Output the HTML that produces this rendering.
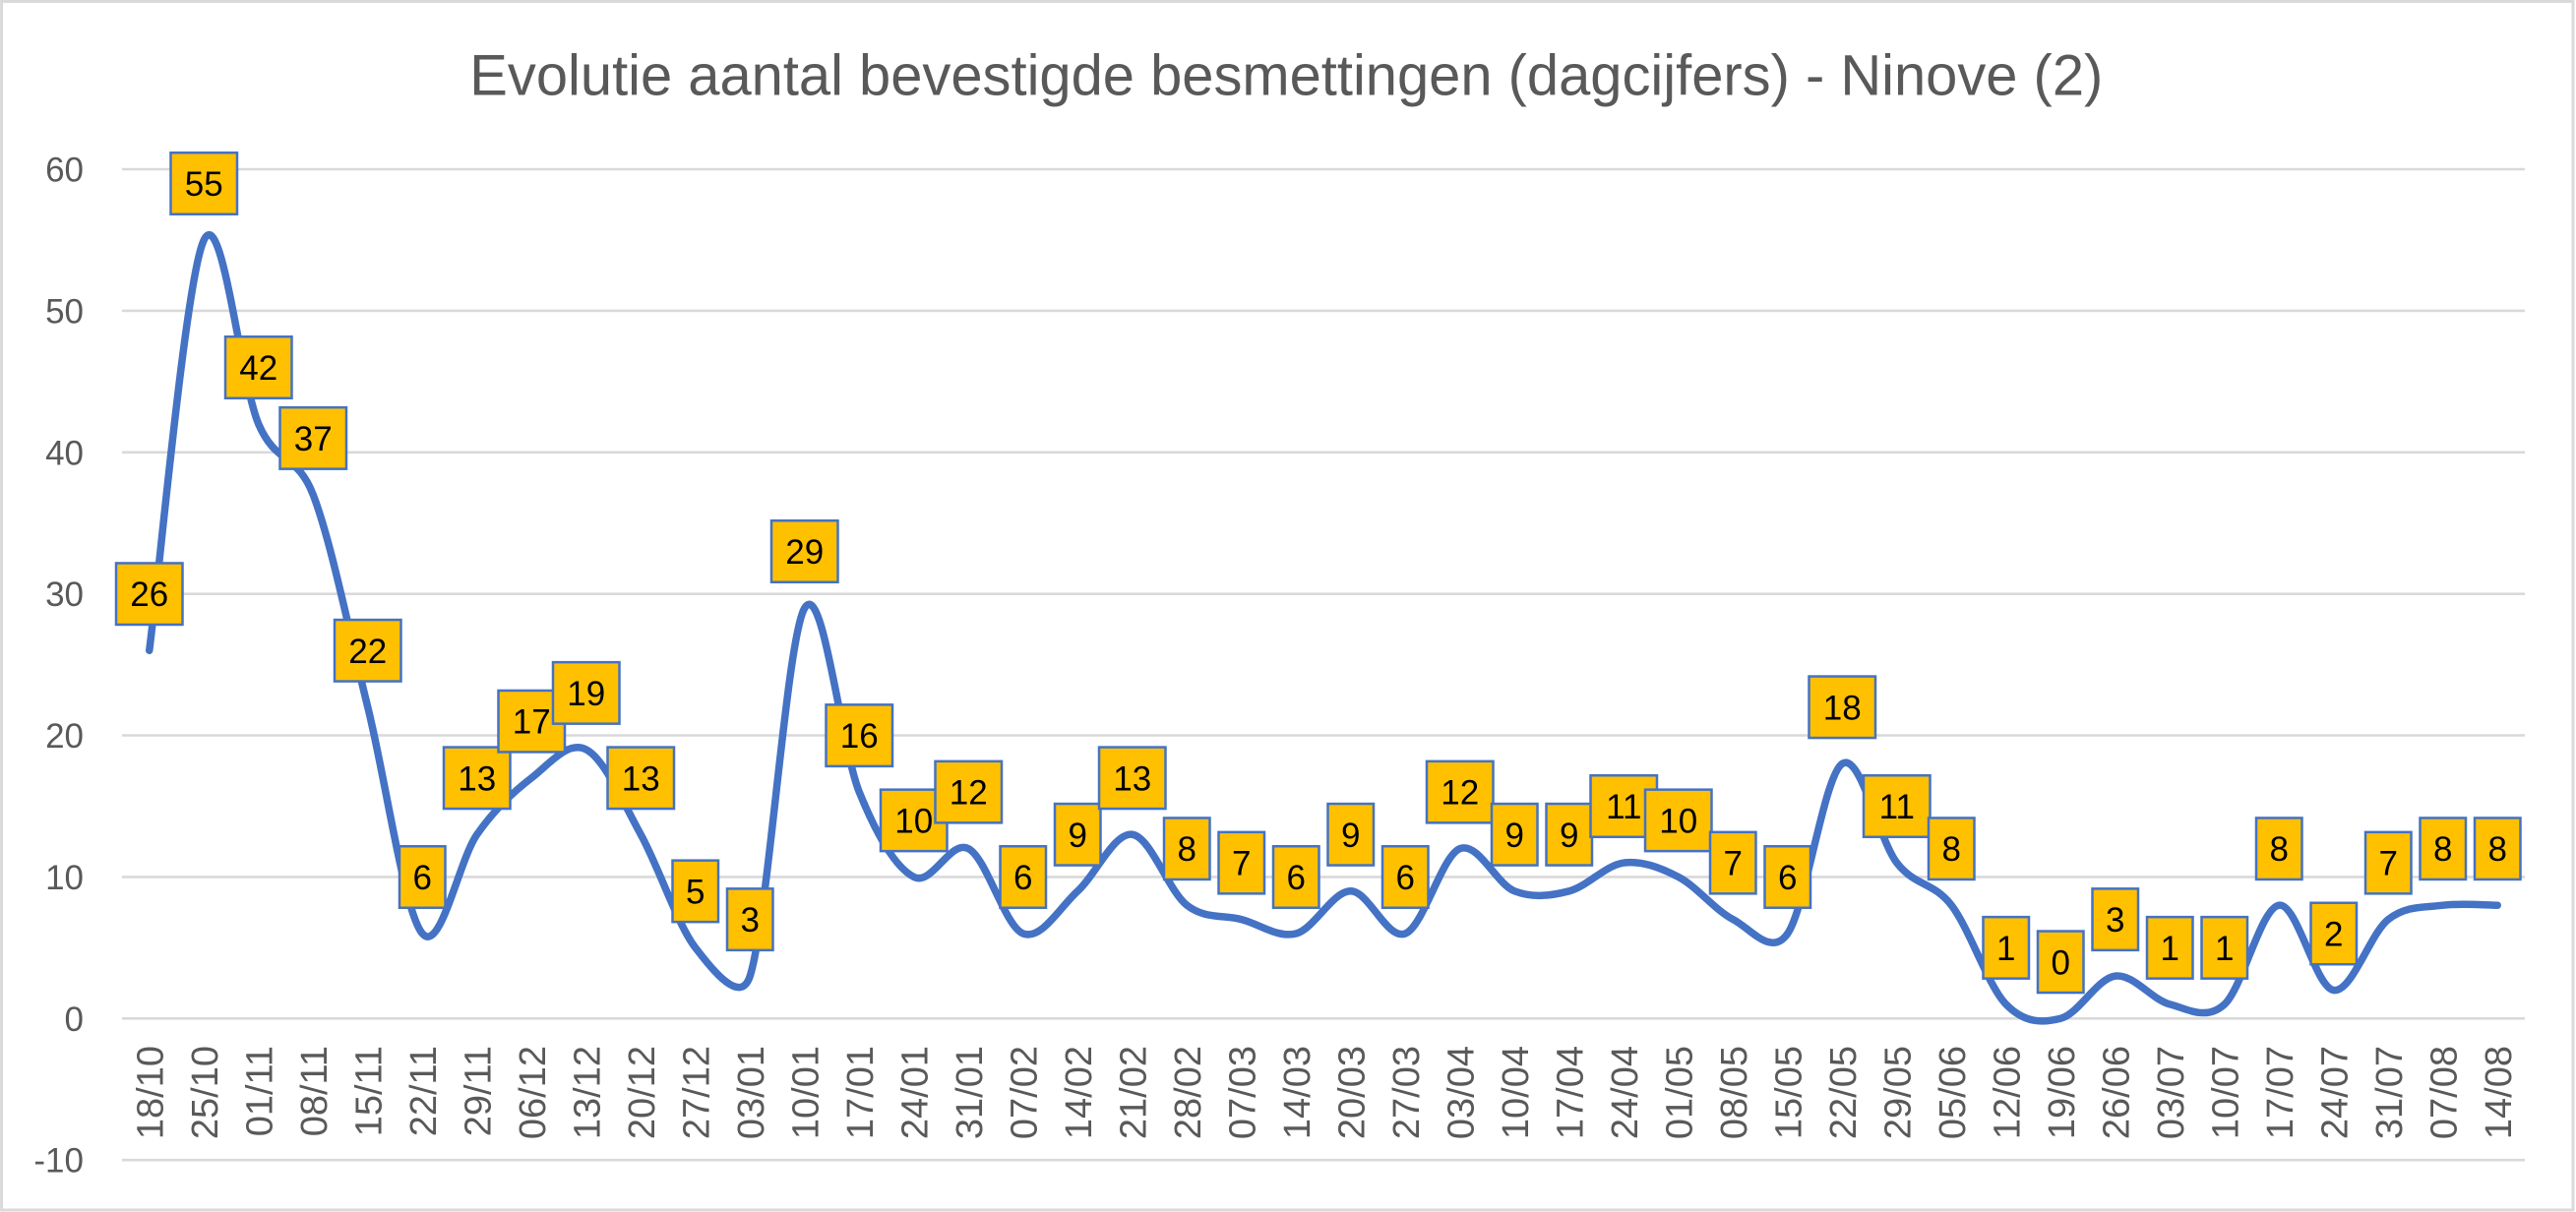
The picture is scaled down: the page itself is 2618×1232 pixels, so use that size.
<!DOCTYPE html>
<html>
<head>
<meta charset="utf-8">
<style>
html,body{margin:0;padding:0;background:#fff;}
svg{display:block;}
text{font-family:"Liberation Sans",Arial,sans-serif;}
.yl{font-size:35px;fill:#595959;text-anchor:end;}
.xl{font-size:38px;fill:#595959;text-anchor:end;}
.lb rect{fill:#FFC000;stroke:#4472C4;stroke-width:2.5;}
.lb text{font-size:35px;fill:#000;text-anchor:middle;}
</style>
</head>
<body>
<svg width="2618" height="1232" viewBox="0 0 2618 1232" xmlns="http://www.w3.org/2000/svg">
<rect x="0" y="0" width="2618" height="1232" fill="#fff"/>
<rect x="1.6" y="1.4" width="2613.4" height="1228.6" fill="none" stroke="#D9D9D9" stroke-width="3"/>

<text x="477.3" y="96.7" font-size="58" fill="#595959" textLength="1660" lengthAdjust="spacingAndGlyphs">Evolutie aantal bevestigde besmettingen (dagcijfers) - Ninove (2)</text>

<g stroke="#D9D9D9" stroke-width="2.6">
<line x1="124" x2="2566" y1="172.0" y2="172.0"/>
<line x1="124" x2="2566" y1="315.9" y2="315.9"/>
<line x1="124" x2="2566" y1="459.8" y2="459.8"/>
<line x1="124" x2="2566" y1="603.7" y2="603.7"/>
<line x1="124" x2="2566" y1="747.5" y2="747.5"/>
<line x1="124" x2="2566" y1="891.4" y2="891.4"/>
<line x1="124" x2="2566" y1="1035.3" y2="1035.3"/>
<line x1="124" x2="2566" y1="1179.2" y2="1179.2"/>
</g>

<g class="yl">
<text class="yl" x="85" y="184.5">60</text>
<text class="yl" x="85" y="328.4">50</text>
<text class="yl" x="85" y="472.3">40</text>
<text class="yl" x="85" y="616.2">30</text>
<text class="yl" x="85" y="760.0">20</text>
<text class="yl" x="85" y="903.9">10</text>
<text class="yl" x="85" y="1047.8">0</text>
<text class="yl" x="85" y="1191.7">-10</text>
</g>

<g>
<text class="xl" transform="translate(165.25,1063) rotate(-90)">18/10</text>
<text class="xl" transform="translate(220.75,1063) rotate(-90)">25/10</text>
<text class="xl" transform="translate(276.25,1063) rotate(-90)">01/11</text>
<text class="xl" transform="translate(331.75,1063) rotate(-90)">08/11</text>
<text class="xl" transform="translate(387.25,1063) rotate(-90)">15/11</text>
<text class="xl" transform="translate(442.75,1063) rotate(-90)">22/11</text>
<text class="xl" transform="translate(498.25,1063) rotate(-90)">29/11</text>
<text class="xl" transform="translate(553.75,1063) rotate(-90)">06/12</text>
<text class="xl" transform="translate(609.25,1063) rotate(-90)">13/12</text>
<text class="xl" transform="translate(664.75,1063) rotate(-90)">20/12</text>
<text class="xl" transform="translate(720.25,1063) rotate(-90)">27/12</text>
<text class="xl" transform="translate(775.75,1063) rotate(-90)">03/01</text>
<text class="xl" transform="translate(831.25,1063) rotate(-90)">10/01</text>
<text class="xl" transform="translate(886.75,1063) rotate(-90)">17/01</text>
<text class="xl" transform="translate(942.25,1063) rotate(-90)">24/01</text>
<text class="xl" transform="translate(997.75,1063) rotate(-90)">31/01</text>
<text class="xl" transform="translate(1053.25,1063) rotate(-90)">07/02</text>
<text class="xl" transform="translate(1108.75,1063) rotate(-90)">14/02</text>
<text class="xl" transform="translate(1164.25,1063) rotate(-90)">21/02</text>
<text class="xl" transform="translate(1219.75,1063) rotate(-90)">28/02</text>
<text class="xl" transform="translate(1275.25,1063) rotate(-90)">07/03</text>
<text class="xl" transform="translate(1330.75,1063) rotate(-90)">14/03</text>
<text class="xl" transform="translate(1386.25,1063) rotate(-90)">20/03</text>
<text class="xl" transform="translate(1441.75,1063) rotate(-90)">27/03</text>
<text class="xl" transform="translate(1497.25,1063) rotate(-90)">03/04</text>
<text class="xl" transform="translate(1552.75,1063) rotate(-90)">10/04</text>
<text class="xl" transform="translate(1608.25,1063) rotate(-90)">17/04</text>
<text class="xl" transform="translate(1663.75,1063) rotate(-90)">24/04</text>
<text class="xl" transform="translate(1719.25,1063) rotate(-90)">01/05</text>
<text class="xl" transform="translate(1774.75,1063) rotate(-90)">08/05</text>
<text class="xl" transform="translate(1830.25,1063) rotate(-90)">15/05</text>
<text class="xl" transform="translate(1885.75,1063) rotate(-90)">22/05</text>
<text class="xl" transform="translate(1941.25,1063) rotate(-90)">29/05</text>
<text class="xl" transform="translate(1996.75,1063) rotate(-90)">05/06</text>
<text class="xl" transform="translate(2052.25,1063) rotate(-90)">12/06</text>
<text class="xl" transform="translate(2107.75,1063) rotate(-90)">19/06</text>
<text class="xl" transform="translate(2163.25,1063) rotate(-90)">26/06</text>
<text class="xl" transform="translate(2218.75,1063) rotate(-90)">03/07</text>
<text class="xl" transform="translate(2274.25,1063) rotate(-90)">10/07</text>
<text class="xl" transform="translate(2329.75,1063) rotate(-90)">17/07</text>
<text class="xl" transform="translate(2385.25,1063) rotate(-90)">24/07</text>
<text class="xl" transform="translate(2440.75,1063) rotate(-90)">31/07</text>
<text class="xl" transform="translate(2496.25,1063) rotate(-90)">07/08</text>
<text class="xl" transform="translate(2551.75,1063) rotate(-90)">14/08</text>
</g>

<g transform="translate(151.75,1035.3) scale(55.5,-14.388)">
<path fill="none" stroke="#4472C4" stroke-width="7.5" stroke-linecap="round" stroke-linejoin="round" vector-effect="non-scaling-stroke" d="M0,26
C0.1667,30.833 0.6667,52.333 1,55
C1.3333,57.667 1.6667,45 2,42
C2.3224,39.098 2.7054,39.946 3,37
C3.3333,33.667 3.6667,27.167 4,22
C4.3333,16.833 4.6667,7.5 5,6
C5.3333,4.5 5.6667,11.167 6,13
C6.3333,14.833 6.6667,16 7,17
C7.3333,18 7.6667,19.667 8,19
C8.3333,18.333 8.6667,15.333 9,13
C9.3333,10.667 9.6667,6.667 10,5
C10.3333,3.333 10.8276,0.931 11,3
C11.3333,7 11.6667,26.833 12,29
C12.3333,31.167 12.6667,19.167 13,16
C13.3333,12.833 13.6667,10.667 14,10
C14.3333,9.333 14.6667,12.667 15,12
C15.3333,11.333 15.6667,6.5 16,6
C16.3333,5.5 16.6667,7.833 17,9
C17.3333,10.167 17.6667,13.167 18,13
C18.3333,12.833 18.6667,9 19,8
C19.3333,7 19.6667,7.333 20,7
C20.3333,6.667 20.6667,5.667 21,6
C21.3333,6.333 21.6667,9 22,9
C22.3333,9 22.6667,5.5 23,6
C23.3333,6.5 23.6667,11.5 24,12
C24.3333,12.5 24.6667,9.5 25,9
C25.3333,8.5 25.6667,8.667 26,9
C26.3333,9.333 26.6667,10.833 27,11
C27.3333,11.167 27.6667,10.667 28,10
C28.3333,9.333 28.6667,7.667 29,7
C29.3333,6.333 29.6982,4.340 30,6
C30.3333,7.833 30.6667,17.167 31,18
C31.3333,18.833 31.6667,12.667 32,11
C32.3333,9.333 32.6667,9.667 33,8
C33.3333,6.333 33.6667,2.333 34,1
C34.3333,-0.333 34.6667,-0.333 35,0
C35.3333,0.333 35.6667,2.833 36,3
C36.3333,3.167 36.6667,1.333 37,1
C37.3333,0.667 37.6667,-0.167 38,1
C38.3333,2.167 38.6667,7.833 39,8
C39.3333,8.167 39.6667,2.167 40,2
C40.3333,1.833 40.6667,6 41,7
C41.3333,8 41.6667,7.833 42,8
C42.3333,8.167 42.8333,8 43,8"/>
</g>

<g class="lb">
<g transform="translate(151.75,603.7)"><rect x="-33.75" y="-31.25" width="67.5" height="62.5"/><text y="12.5">26</text></g>
<g transform="translate(207.25,186.5)"><rect x="-33.75" y="-31.25" width="67.5" height="62.5"/><text y="12.5">55</text></g>
<g transform="translate(262.75,373.5)"><rect x="-33.75" y="-31.25" width="67.5" height="62.5"/><text y="12.5">42</text></g>
<g transform="translate(318.25,445.4)"><rect x="-33.75" y="-31.25" width="67.5" height="62.5"/><text y="12.5">37</text></g>
<g transform="translate(373.75,661.3)"><rect x="-33.75" y="-31.25" width="67.5" height="62.5"/><text y="12.5">22</text></g>
<g transform="translate(429.25,891.5)"><rect x="-23.25" y="-31.25" width="46.5" height="62.5"/><text y="12.5">6</text></g>
<g transform="translate(484.75,790.8)"><rect x="-33.75" y="-31.25" width="67.5" height="62.5"/><text y="12.5">13</text></g>
<g transform="translate(540.25,733.2)"><rect x="-33.75" y="-31.25" width="67.5" height="62.5"/><text y="12.5">17</text></g>
<g transform="translate(595.75,704.4)"><rect x="-33.75" y="-31.25" width="67.5" height="62.5"/><text y="12.5">19</text></g>
<g transform="translate(651.25,790.8)"><rect x="-33.75" y="-31.25" width="67.5" height="62.5"/><text y="12.5">13</text></g>
<g transform="translate(706.75,905.9)"><rect x="-23.25" y="-31.25" width="46.5" height="62.5"/><text y="12.5">5</text></g>
<g transform="translate(762.25,934.6)"><rect x="-23.25" y="-31.25" width="46.5" height="62.5"/><text y="12.5">3</text></g>
<g transform="translate(817.75,560.5)"><rect x="-33.75" y="-31.25" width="67.5" height="62.5"/><text y="12.5">29</text></g>
<g transform="translate(873.25,747.6)"><rect x="-33.75" y="-31.25" width="67.5" height="62.5"/><text y="12.5">16</text></g>
<g transform="translate(928.75,833.9)"><rect x="-33.75" y="-31.25" width="67.5" height="62.5"/><text y="12.5">10</text></g>
<g transform="translate(984.25,805.1)"><rect x="-33.75" y="-31.25" width="67.5" height="62.5"/><text y="12.5">12</text></g>
<g transform="translate(1039.75,891.5)"><rect x="-23.25" y="-31.25" width="46.5" height="62.5"/><text y="12.5">6</text></g>
<g transform="translate(1095.25,848.3)"><rect x="-23.25" y="-31.25" width="46.5" height="62.5"/><text y="12.5">9</text></g>
<g transform="translate(1150.75,790.8)"><rect x="-33.75" y="-31.25" width="67.5" height="62.5"/><text y="12.5">13</text></g>
<g transform="translate(1206.25,862.7)"><rect x="-23.25" y="-31.25" width="46.5" height="62.5"/><text y="12.5">8</text></g>
<g transform="translate(1261.75,877.1)"><rect x="-23.25" y="-31.25" width="46.5" height="62.5"/><text y="12.5">7</text></g>
<g transform="translate(1317.25,891.5)"><rect x="-23.25" y="-31.25" width="46.5" height="62.5"/><text y="12.5">6</text></g>
<g transform="translate(1372.75,848.3)"><rect x="-23.25" y="-31.25" width="46.5" height="62.5"/><text y="12.5">9</text></g>
<g transform="translate(1428.25,891.5)"><rect x="-23.25" y="-31.25" width="46.5" height="62.5"/><text y="12.5">6</text></g>
<g transform="translate(1483.75,805.1)"><rect x="-33.75" y="-31.25" width="67.5" height="62.5"/><text y="12.5">12</text></g>
<g transform="translate(1539.25,848.3)"><rect x="-23.25" y="-31.25" width="46.5" height="62.5"/><text y="12.5">9</text></g>
<g transform="translate(1594.75,848.3)"><rect x="-23.25" y="-31.25" width="46.5" height="62.5"/><text y="12.5">9</text></g>
<g transform="translate(1650.25,819.5)"><rect x="-33.75" y="-31.25" width="67.5" height="62.5"/><text y="12.5">11</text></g>
<g transform="translate(1705.75,833.9)"><rect x="-33.75" y="-31.25" width="67.5" height="62.5"/><text y="12.5">10</text></g>
<g transform="translate(1761.25,877.1)"><rect x="-23.25" y="-31.25" width="46.5" height="62.5"/><text y="12.5">7</text></g>
<g transform="translate(1816.75,891.5)"><rect x="-23.25" y="-31.25" width="46.5" height="62.5"/><text y="12.5">6</text></g>
<g transform="translate(1872.25,718.8)"><rect x="-33.75" y="-31.25" width="67.5" height="62.5"/><text y="12.5">18</text></g>
<g transform="translate(1927.75,819.5)"><rect x="-33.75" y="-31.25" width="67.5" height="62.5"/><text y="12.5">11</text></g>
<g transform="translate(1983.25,862.7)"><rect x="-23.25" y="-31.25" width="46.5" height="62.5"/><text y="12.5">8</text></g>
<g transform="translate(2038.75,963.4)"><rect x="-23.25" y="-31.25" width="46.5" height="62.5"/><text y="12.5">1</text></g>
<g transform="translate(2094.25,977.8)"><rect x="-23.25" y="-31.25" width="46.5" height="62.5"/><text y="12.5">0</text></g>
<g transform="translate(2149.75,934.6)"><rect x="-23.25" y="-31.25" width="46.5" height="62.5"/><text y="12.5">3</text></g>
<g transform="translate(2205.25,963.4)"><rect x="-23.25" y="-31.25" width="46.5" height="62.5"/><text y="12.5">1</text></g>
<g transform="translate(2260.75,963.4)"><rect x="-23.25" y="-31.25" width="46.5" height="62.5"/><text y="12.5">1</text></g>
<g transform="translate(2316.25,862.7)"><rect x="-23.25" y="-31.25" width="46.5" height="62.5"/><text y="12.5">8</text></g>
<g transform="translate(2371.75,949.0)"><rect x="-23.25" y="-31.25" width="46.5" height="62.5"/><text y="12.5">2</text></g>
<g transform="translate(2427.25,877.1)"><rect x="-23.25" y="-31.25" width="46.5" height="62.5"/><text y="12.5">7</text></g>
<g transform="translate(2482.75,862.7)"><rect x="-23.25" y="-31.25" width="46.5" height="62.5"/><text y="12.5">8</text></g>
<g transform="translate(2538.25,862.7)"><rect x="-23.25" y="-31.25" width="46.5" height="62.5"/><text y="12.5">8</text></g>
</g>
</svg>
</body>
</html>
